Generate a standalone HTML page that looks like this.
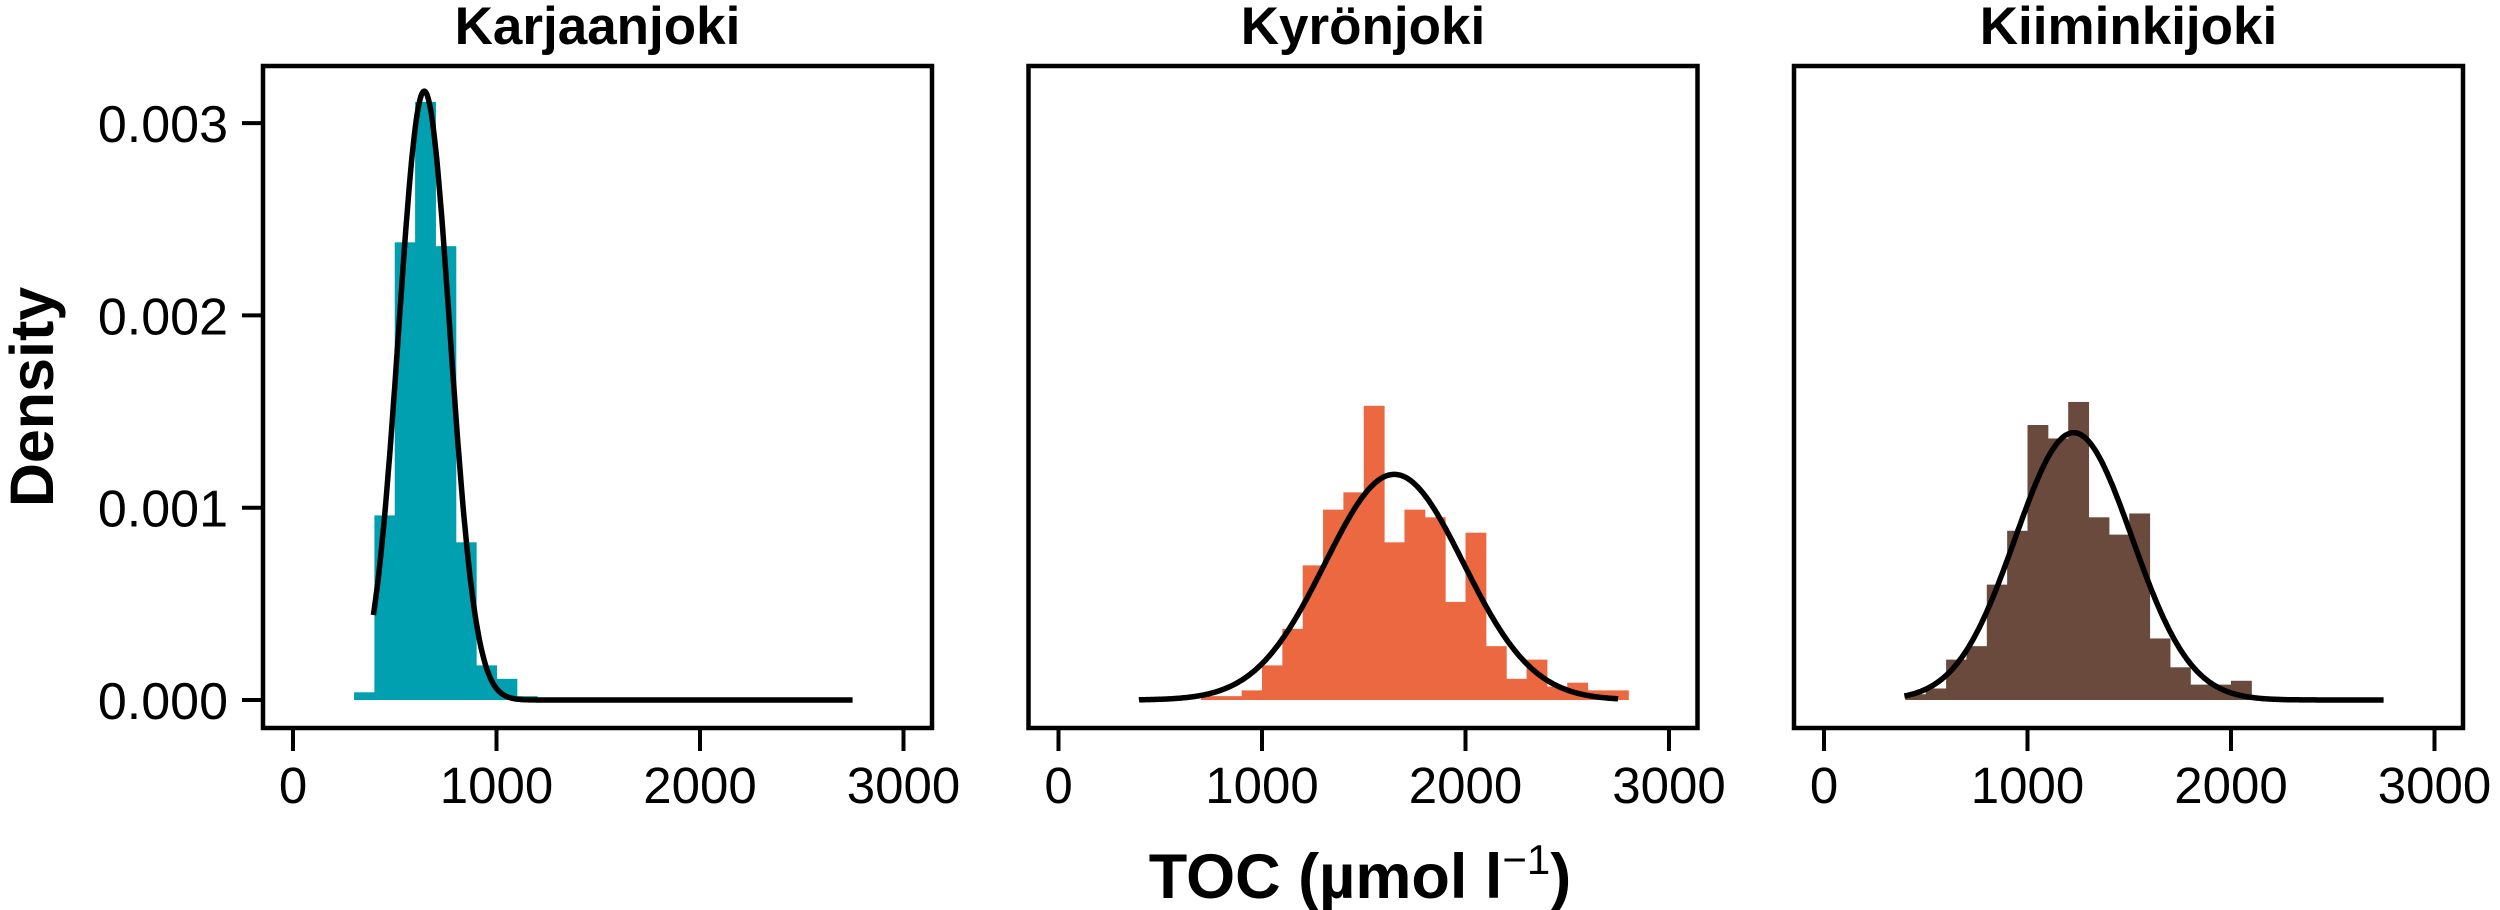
<!DOCTYPE html>
<html><head><meta charset="utf-8"><style>
html,body{margin:0;padding:0;background:#fff;}
svg{display:block;font-family:"Liberation Sans",Arial,sans-serif;}
</style></head><body>
<svg id="chart" width="2500" height="910" viewBox="0 0 2500 910" xmlns="http://www.w3.org/2000/svg">
<text x="0" y="0" transform="translate(53,397) rotate(-90)" text-anchor="middle" font-size="61" font-weight="bold">Density</text>
<text x="1360" y="898" text-anchor="middle" font-size="63" font-weight="bold">TOC (µmol l<tspan dy="-24" font-size="42" font-weight="normal">−1</tspan><tspan dy="24">)</tspan></text>
</svg>
<script>
const panelNames = ["Karjaanjoki", "Kyrönjoki", "Kiiminkijoki"];
const panelColors = ["#00A0B0", "#EB6841", "#6A4A3C"];
const binWidth = 100;
const binStarts = [300, 700, 400];
const densK = [0.00004,0.00096,0.00238,0.00311,0.00236,0.00082,0.00018,0.00011,0.00002,0,0,0.000005];
const densKy = [0.00002,0.00002,0.00005,0.00018,0.00037,0.0007,0.00099,0.00108,0.00153,0.00082,0.00099,0.00095,0.00051,0.00087,0.00028,0.00011,0.00021,0.00007,0.00009,0.00005,0.00005];
const densKi = [0.00003,0.00006,0.00021,0.00028,0.0006,0.00088,0.00143,0.00136,0.00155,0.00095,0.00086,0.00097,0.00032,0.00017,0.00008,0.00008,0.0001,0,0,0.00001];
const fitMeans = [645, 1650, 1227];
const fitSDs = [126, 340, 287];
const curveRange = [395, 2750];
const xTicks = [0, 1000, 2000, 3000];
const yTicks = [0, 0.001, 0.002, 0.003];
const yTickLabels = ["0.000", "0.001", "0.002", "0.003"];

const svg = document.getElementById('chart');
const NS = "http://www.w3.org/2000/svg";
const panelX0 = [293, 1058.5, 1824];
const pxPerUnit = 0.2035;
const yZero = 700, pxPerDens = 192300;
const boxTop = 66, boxBottom = 728;
function xs(p, v){ return panelX0[p] + v * pxPerUnit; }
function ys(d){ return yZero - d * pxPerDens; }
function mk(tag, attrs){ const e = document.createElementNS(NS, tag); for (const k in attrs) e.setAttribute(k, attrs[k]); return e; }
const allDens = [densK, densKy, densKi];

for (let p = 0; p < 3; p++) {
  const g = mk('g', {});
  
  
  svg.appendChild(g);
  allDens[p].forEach((d, i) => {
    if (d <= 0) return;
    const x1 = xs(p, binStarts[p] + i * binWidth), x2 = xs(p, binStarts[p] + (i + 1) * binWidth);
    const r = mk('rect', {x: x1, y: ys(d), width: x2 - x1 + 0.5, height: yZero - ys(d), fill: panelColors[p]});
    
    
    g.appendChild(r);
  });
  let dstr = '';
  const m = fitMeans[p], s = fitSDs[p];
  for (let v = curveRange[0]; v <= curveRange[1]; v += 5) {
    const dv = Math.exp(-0.5 * Math.pow((v - m) / s, 2)) / (s * Math.sqrt(2 * Math.PI));
    dstr += (dstr ? 'L' : 'M') + xs(p, v).toFixed(1) + ',' + ys(dv).toFixed(1);
  }
  const c = mk('path', {d: dstr, fill: 'none', stroke: '#000', 'stroke-width': 5.5, 'stroke-linejoin': 'round'});
  
  
  g.appendChild(c);
  const bx = panelX0[p] - 30, bw = 669;
  const box = mk('rect', {x: bx, y: boxTop, width: bw, height: boxBottom - boxTop, fill: 'none', stroke: '#000', 'stroke-width': 4.5});
  
  
  g.appendChild(box);
  const t = mk('text', {x: bx + bw / 2, y: 44, 'text-anchor': 'middle', 'font-size': 53, 'font-weight': 'bold'});
  t.textContent = panelNames[p];
  
  
  g.appendChild(t);
  xTicks.forEach(v => {
    const tx = xs(p, v);
    const l = mk('line', {x1: tx, x2: tx, y1: boxBottom, y2: 751, stroke: '#000', 'stroke-width': 4});
    
    
    g.appendChild(l);
    const lb = mk('text', {x: tx, y: 803, 'text-anchor': 'middle', 'font-size': 51});
    lb.textContent = v;
    
    
    g.appendChild(lb);
  });
  if (p === 0) {
    yTicks.forEach((v, i) => {
      const ty = ys(v);
      const l = mk('line', {x1: 242, x2: bx, y1: ty, y2: ty, stroke: '#000', 'stroke-width': 4});
      
      
      g.appendChild(l);
      const lb = mk('text', {x: 228, y: ty + 19, 'text-anchor': 'end', 'font-size': 52});
      lb.textContent = yTickLabels[i];
      
      
      g.appendChild(lb);
    });
  }
}
</script>
</body></html>
